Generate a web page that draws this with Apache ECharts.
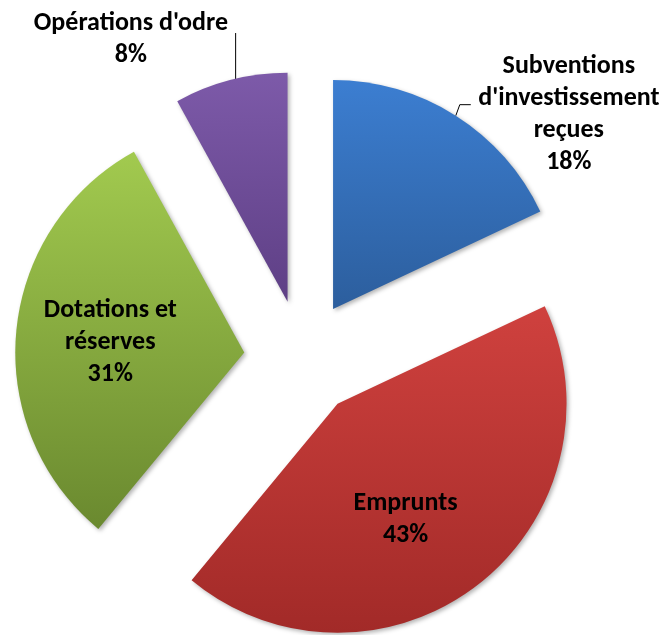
<!DOCTYPE html>
<html>
<head>
<meta charset="utf-8">
<script src="https://cdn.jsdelivr.net/npm/echarts@6/dist/echarts.min.js"></script>
<style>
html,body{margin:0;padding:0;background:#fff;}
#chart{width:668px;height:635px;}
</style>
</head>
<body>
<div id="chart"></div>
<script>
const categories = ["Subventions\nd'investissement\nreçues", "Emprunts", "Dotations et\nréserves", "Opérations d'odre"];
const values = [18, 43, 31, 8];
const topColors = ['#3C7ED1', '#CF413E', '#A2CA4F', '#7D5AA9'];
const bottomColors = ['#2C5E9D', '#A22A28', '#6A892F', '#5E3F85'];
const labelPositions = ['outside', 'inside', 'inside', 'outside'];

const chart = echarts.init(document.getElementById('chart'), null, {renderer: 'canvas'});

const FONT = 'Carlito, Lato, sans-serif';
const FS = 26;
const LH = 32;
const BOX_W = 186;

const data = categories.map((name, i) => ({
  name: name,
  value: values[i],
  selected: true,
  itemStyle: {
    color: new echarts.graphic.LinearGradient(0, 0, 0, 1, [
      {offset: 0, color: topColors[i]},
      {offset: 1, color: bottomColors[i]}
    ])
  },
  label: {position: labelPositions[i]},
  labelLine: {show: labelPositions[i] === 'outside'}
}));

chart.setOption({
  animation: false,
  series: [{
    type: 'pie',
    center: [302, 358],
    radius: [0, 229],
    startAngle: 90,
    clockwise: true,
    selectedMode: 'multiple',
    selectedOffset: 58,
    avoidLabelOverlap: false,
    emphasis: {disabled: true},
    itemStyle: {
      shadowBlur: 4,
      shadowColor: 'rgba(0,0,0,0.3)',
      shadowOffsetX: 2,
      shadowOffsetY: 2
    },
    label: {
      show: true,
      color: '#000',
      fontFamily: FONT,
      fontWeight: 'bold',
      fontSize: FS,
      lineHeight: LH,
      overflow: 'none',
      rich: {
        c: {width: BOX_W, align: 'center', fontFamily: FONT, fontWeight: 'bold', fontSize: FS, lineHeight: LH, color: '#000'}
      },
      formatter: function (p) {
        const lines = (p.name + '\n' + Math.round(p.percent) + '%').split('\n');
        if (labelPositions[p.dataIndex] === 'outside') {
          return lines.map(function (l) { return '{c|' + l + '}'; }).join('\n');
        }
        return lines.join('\n');
      }
    },
    labelLine: {
      show: true,
      lineStyle: {color: '#000', width: 1}
    },
    labelLayout: function (p) {
      const pts = p.labelLinePoints;
      if (p.dataIndex === 0 && pts) {
        const a = pts[0];
        return {
          dx: -23, dy: 11,
          labelLinePoints: [a, [a[0] + 4, a[1] - 11], [a[0] + 15, a[1] - 11]]
        };
      }
      if (p.dataIndex === 3 && pts) {
        const a = pts[0];
        return {
          dx: 32, dy: -26,
          labelLinePoints: [[a[0] + 5, a[1]], [a[0] + 5, a[1] - 47], [a[0] + 5, a[1] - 47]]
        };
      }
      if (p.dataIndex === 1) return {dy: 23, dx: -4};
      if (p.dataIndex === 2) return {dx: -17, dy: 1};
      return {};
    },
    data: data
  }]
});
</script>
</body>
</html>
